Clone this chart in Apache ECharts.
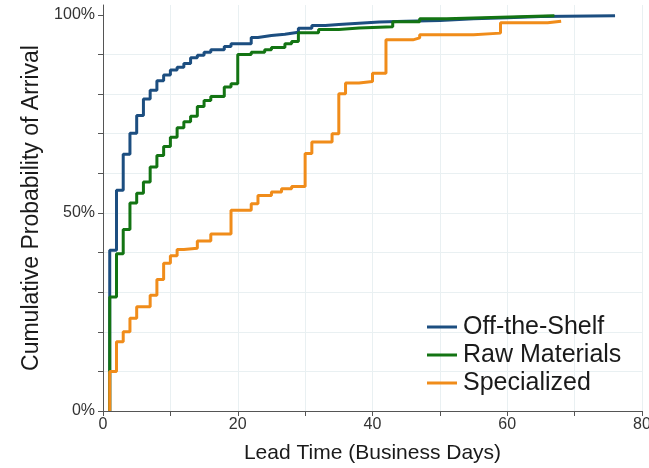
<!DOCTYPE html>
<html>
<head>
<meta charset="utf-8">
<script src="https://cdn.jsdelivr.net/npm/echarts@6/dist/echarts.min.js"></script>
<style>
  html, body { margin: 0; padding: 0; background: #fff; }
  #chart { width: 649px; height: 468px; }
</style>
</head>
<body>
<div id="chart"></div>
<script>
// Lead time (business days) and cumulative probability (%) after each step
const seriesNames = ['Off-the-Shelf', 'Raw Materials', 'Specialized'];

const offShelfDays = [1, 1, 2, 3, 4, 5, 6, 7, 8, 9, 10, 11, 12, 13, 14, 15, 16, 18, 19, 22, 23, 25, 27, 29, 31, 33, 35, 38, 41, 45, 50, 55, 60, 65, 76];
const offShelfProb = [0, 40.6, 55.7, 64.8, 70.1, 74.6, 78.8, 81.0, 83.4, 84.8, 86.1, 86.8, 87.7, 89.2, 89.8, 90.6, 91.2, 92.0, 92.7, 94.3, 94.8, 95.1, 95.6, 96.6, 97.3, 97.6, 97.9, 98.2, 98.4, 98.6, 99.0, 99.3, 99.6, 99.8, 99.8];

const rawDays = [1, 1, 2, 3, 4, 5, 6, 7, 8, 9, 10, 11, 12, 13, 14, 15, 16, 18, 19, 20, 22, 24, 25, 27, 28, 29, 32, 35, 38, 43, 47, 51, 59, 67];
const rawProb = [0, 28.8, 39.7, 45.8, 52.5, 55.0, 57.8, 61.6, 64.5, 66.8, 69.1, 71.5, 73.0, 74.4, 76.9, 78.4, 79.4, 81.8, 82.6, 90.0, 90.6, 91.2, 91.8, 92.7, 93.3, 95.5, 96.3, 96.7, 97.0, 98.3, 99.0, 99.4, 99.8, 99.8];

const specDays = [1, 1, 2, 3, 4, 5, 7, 8, 9, 10, 11, 12, 14, 16, 19, 22, 23, 25, 26.5, 28, 30, 31, 34, 35, 36, 38, 40, 42, 46, 47, 55, 59, 66, 68];
const specProb = [0, 10.0, 17.5, 20.0, 23.4, 26.3, 29.2, 33.2, 37.3, 39.2, 40.8, 41.1, 42.9, 44.7, 50.7, 52.3, 54.4, 55.3, 56.1, 56.7, 65.0, 67.9, 70.0, 80.1, 82.8, 83.2, 85.3, 93.7, 94.2, 95.0, 95.4, 98.0, 98.4, 98.4];

const xTicks = [0, 10, 20, 30, 40, 50, 60, 70, 80];
const xLabels = [0, 20, 40, 60, 80];
const yTicks = [0, 10, 20, 30, 40, 50, 60, 70, 80, 90, 100];
const yLabels = [0, 50, 100];

const colors = ['#1c4e80', '#137413', '#f08c1a'];

function zip(xs, ys) { return xs.map((x, i) => [x, ys[i]]); }
const dataSets = [zip(offShelfDays, offShelfProb), zip(rawDays, rawProb), zip(specDays, specProb)];

const font = '"Liberation Sans", Arial, sans-serif';
const chart = echarts.init(document.getElementById('chart'), null, { renderer: 'canvas' });
chart.setOption({
  animation: false,
  backgroundColor: '#ffffff',
  grid: { left: 103, right: 7, top: 5, bottom: 57, containLabel: false, outerBoundsMode: 'none' },
  xAxis: {
    type: 'value', min: 0, max: 80, interval: 10,
    name: 'Lead Time (Business Days)', nameLocation: 'middle', nameGap: 32,
    nameTextStyle: { fontFamily: font, fontSize: 21, color: '#1a1a1a' },
    axisLine: { show: true, onZero: false, lineStyle: { color: '#555', width: 1 } },
    axisTick: { show: true, length: 5, lineStyle: { color: '#555' }, customValues: xTicks },
    axisLabel: { fontFamily: font, fontSize: 16, color: '#333', margin: 6, customValues: xLabels, hideOverlap: false },
    splitLine: { show: true, lineStyle: { color: '#e9f0f2', width: 1 } }
  },
  yAxis: {
    type: 'value', min: 0, max: 102.5, interval: 10,
    name: 'Cumulative Probability of Arrival', nameLocation: 'middle', nameGap: 54,
    nameTextStyle: { fontFamily: font, fontSize: 23, color: '#1a1a1a' },
    axisLine: { show: true, onZero: false, lineStyle: { color: '#555', width: 1 } },
    axisTick: { show: true, length: 5, lineStyle: { color: '#555' }, customValues: yTicks },
    axisLabel: { fontFamily: font, fontSize: 16, color: '#333', margin: 8, customValues: yLabels, formatter: v => v + '%' },
    splitLine: { show: true, showMaxLine: false, lineStyle: { color: '#e9f0f2', width: 1 } }
  },
  legend: {
    show: true, left: 422, top: 308, orient: 'vertical',
    icon: 'rect', itemWidth: 30, itemHeight: 3, itemGap: 0,
    textStyle: { fontFamily: font, fontSize: 25, color: '#1a1a1a', lineHeight: 28, padding: [0, 0, 0, 1] },
    data: seriesNames
  },
  series: seriesNames.map((n, i) => ({
    name: n, type: 'line', step: 'end', data: dataSets[i],
    showSymbol: false, symbol: 'none', color: colors[i],
    lineStyle: { width: 3, color: colors[i] }
  }))
});
</script>
</body>
</html>
